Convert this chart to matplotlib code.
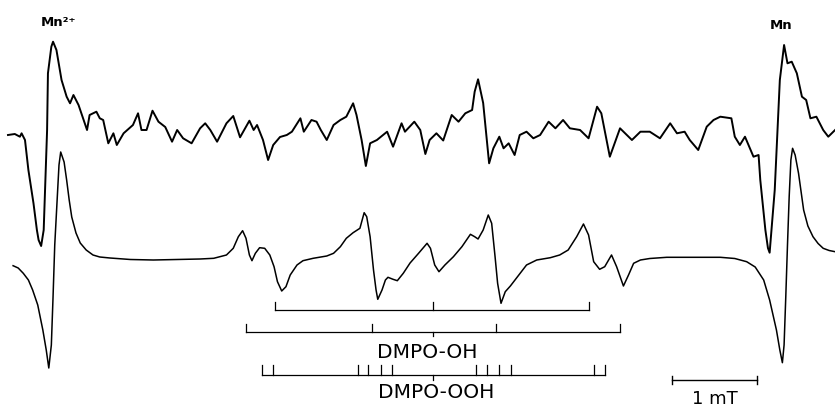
import matplotlib
matplotlib.use("Agg")
import matplotlib.pyplot as plt

# field offset from spectrum centre (mT), intensity in arbitrary units
exp_field = [-5.00, -4.92, -4.86, -4.84, -4.80, -4.76, -4.70, -4.66, -4.64, -4.61,
             -4.58, -4.54, -4.53, -4.49, -4.47, -4.43, -4.37, -4.31, -4.27, -4.23,
             -4.17, -4.11, -4.07, -4.04, -3.96, -3.92, -3.88, -3.82, -3.76, -3.72,
             -3.64, -3.53, -3.47, -3.43, -3.37, -3.30, -3.23, -3.15, -3.07, -3.01,
             -2.94, -2.84, -2.74, -2.68, -2.62, -2.54, -2.43, -2.35, -2.27, -2.16,
             -2.11, -2.07, -2.00, -1.94, -1.88, -1.80, -1.72, -1.66, -1.56, -1.52,
             -1.43, -1.37, -1.32, -1.25, -1.17, -1.09, -1.02, -0.94, -0.90, -0.84,
             -0.79, -0.74, -0.66, -0.54, -0.47, -0.37, -0.33, -0.22, -0.15, -0.09,
             -0.04, 0.04, 0.12, 0.22, 0.30, 0.38, 0.46, 0.49, 0.53, 0.59,
             0.66, 0.71, 0.78, 0.83, 0.89, 0.96, 1.02, 1.10, 1.18, 1.26,
             1.36, 1.44, 1.53, 1.61, 1.73, 1.83, 1.93, 1.98, 2.08, 2.20,
             2.34, 2.44, 2.55, 2.67, 2.79, 2.87, 2.96, 3.02, 3.12, 3.22,
             3.30, 3.38, 3.51, 3.55, 3.61, 3.67, 3.77, 3.83, 3.85, 3.91,
             3.94, 3.96, 4.02, 4.08, 4.13, 4.17, 4.22, 4.28, 4.34, 4.39,
             4.44, 4.51, 4.59, 4.65, 4.73]
exp_signal = [-0.50, -0.40, -0.67, -0.33, -1.00, -4.00, -7.33, -10.0, -11.0, -11.6,
              -10.0, 0.00, 5.67, 8.33, 8.83, 8.00, 5.00, 3.33, 2.67, 3.50,
              2.50, 1.00, 0.00, 1.50, 1.83, 1.17, 1.00, -1.33, -0.33, -1.50,
              -0.33, 0.50, 1.67, 0.00, 0.00, 1.93, 0.83, 0.30, -1.17, 0.00,
              -0.83, -1.33, 0.17, 0.67, 0.00, -1.17, 0.67, 1.40, -0.73, 0.93,
              0.00, 0.50, -1.00, -3.00, -1.50, -0.70, -0.50, -0.17, 1.17, -0.17,
              1.00, 0.83, 0.00, -1.00, 0.50, 1.00, 1.33, 2.67, 1.50, -1.00,
              -3.60, -1.33, -1.00, -0.17, -1.67, 0.67, -0.17, 0.83, 0.00, -2.40,
              -1.00, -0.33, -1.05, 1.50, 0.83, 1.67, 2.00, 3.83, 5.07, 2.70,
              -3.33, -1.83, -0.67, -1.83, -1.33, -2.50, -0.50, -0.17, -0.83, -0.50,
              0.83, 0.17, 1.00, 0.17, 0.00, -0.83, 2.33, 1.67, -2.67, 0.17,
              -1.00, -0.17, -0.17, -0.83, 0.67, -0.33, -0.17, -1.00, -2.00, 0.33,
              1.00, 1.33, 1.17, -0.67, -1.50, -0.67, -2.67, -2.50, -5.00, -10.0,
              -11.8, -12.27, -6.00, 5.00, 8.50, 6.67, 6.83, 5.67, 3.33, 3.00,
              1.17, 1.33, 0.00, -0.67, 0.00]

sim_field = [-4.94, -4.88, -4.82, -4.76, -4.71, -4.65, -4.59, -4.55, -4.52, -4.49,
             -4.47, -4.45, -4.42, -4.40, -4.38, -4.34, -4.31, -4.28, -4.25, -4.20,
             -4.15, -4.08, -4.00, -3.92, -3.80, -3.56, -3.29, -2.74, -2.58, -2.43,
             -2.35, -2.29, -2.24, -2.20, -2.16, -2.13, -2.09, -2.04, -1.98, -1.92,
             -1.87, -1.83, -1.78, -1.73, -1.68, -1.60, -1.53, -1.41, -1.25, -1.17,
             -1.09, -1.02, -0.94, -0.86, -0.81, -0.78, -0.74, -0.70, -0.67, -0.65,
             -0.60, -0.56, -0.53, -0.47, -0.42, -0.35, -0.27, -0.17, -0.07, -0.03,
             0.02, 0.07, 0.14, 0.24, 0.34, 0.44, 0.49, 0.53, 0.59, 0.65,
             0.69, 0.73, 0.76, 0.80, 0.85, 0.91, 0.98, 1.10, 1.22, 1.38,
             1.49, 1.59, 1.69, 1.77, 1.83, 1.89, 1.96, 2.02, 2.10, 2.16,
             2.24, 2.30, 2.36, 2.44, 2.55, 2.75, 3.38, 3.55, 3.69, 3.79,
             3.89, 3.96, 4.04, 4.08, 4.11, 4.13, 4.15, 4.17, 4.19, 4.21,
             4.23, 4.26, 4.30, 4.36, 4.41, 4.47, 4.53, 4.59, 4.66, 4.73]
sim_signal = [-0.67, -0.90, -1.43, -2.10, -3.10, -4.60, -7.10, -9.10, -10.9, -8.60,
              -3.80, 1.40, 6.20, 9.40, 10.7, 9.70, 7.90, 5.90, 4.20, 2.60,
              1.60, 0.90, 0.40, 0.20, 0.10, -0.05, -0.10, 0.00, 0.07, 0.40,
              1.07, 2.23, 2.83, 2.07, 0.40, -0.17, 0.57, 1.13, 1.07, 0.40,
              -0.77, -2.27, -3.20, -2.77, -1.60, -0.60, -0.17, 0.07, 0.30, 0.57,
              1.23, 2.07, 2.63, 3.07, 4.63, 4.23, 2.23, -1.10, -3.10, -4.03,
              -3.10, -2.10, -1.83, -2.03, -2.17, -1.43, -0.40, 0.57, 1.57, 1.07,
              -0.60, -1.27, -0.60, 0.23, 1.23, 2.47, 2.23, 2.00, 2.90, 4.40,
              3.57, 0.23, -2.43, -4.43, -3.27, -2.70, -1.93, -0.60, -0.10, 0.13,
              0.40, 0.90, 2.23, 3.50, 2.40, -0.27, -1.03, -0.77, 0.40, -0.77,
              -2.70, -1.60, -0.43, -0.10, 0.05, 0.17, 0.17, 0.05, -0.27, -0.80,
              -2.10, -4.10, -7.10, -9.10, -10.37, -8.60, -3.77, 1.40, 6.23, 9.90,
              11.07, 10.4, 8.57, 4.90, 3.30, 2.23, 1.55, 1.07, 0.85, 0.73]

# stick diagrams (line positions, mT)
third_lines = [-1.86, 0.0, 1.84]
dmpo_oh_lines = [-2.20, -0.72, 0.74, 2.20]
dmpo_ooh_lines = [-2.015, -1.886, -0.879, -0.761, -0.615, -0.479,
                  0.506, 0.632, 0.780, 0.914, 1.898, 2.024]
scale_bar = [2.81, 3.81]  # 1 mT

exp_offset = 12.9

fig = plt.figure(figsize=(8.35, 4.07), dpi=100)
ax = fig.add_axes([0, 0, 1, 1])
ax.set_xlim(-5.094, 4.729)
ax.set_ylim(-14.8, 25.9)
ax.axis("off")

# measured spectrum (top) and simulation (bottom)
ax.plot(exp_field, [s + exp_offset for s in exp_signal], color="black", lw=1.4,
        solid_joinstyle="round")
ax.plot(sim_field, sim_signal, color="black", lw=1.1, solid_joinstyle="round")


def stick_row(lines, y, up, down=None, lw=0.9):
    ax.plot([lines[0], lines[-1]], [y, y], color="black", lw=lw)
    for b in lines:
        ax.plot([b, b], [y, y + up], color="black", lw=lw)
    if down is not None:
        ax.plot([0, 0], [y, y - down], color="black", lw=lw)


stick_row(third_lines, -5.1, 0.8)
stick_row(dmpo_oh_lines, -7.27, 0.77, down=0.45)
stick_row(dmpo_ooh_lines, -11.6, 1.0, down=0.45)

ax.text(-0.07, -9.4, "DMPO-OH", ha="center", va="center", fontsize=14.5)
ax.text(0.04, -13.4, "DMPO-OOH", ha="center", va="center", fontsize=14.5)

# 1 mT scale bar
ax.plot(scale_bar, [-12.1, -12.1], color="black", lw=1.0)
for b in scale_bar:
    ax.plot([b, b], [-12.5, -11.7], color="black", lw=1.0)
ax.text(sum(scale_bar) / 2, -14.0, "1 mT", ha="center", va="center", fontsize=13)

ax.text(-4.62, 23.65, "Mn²⁺", ha="left", va="center", fontsize=9.5, fontweight="bold")
ax.text(3.96, 23.35, "Mn", ha="left", va="center", fontsize=9.5, fontweight="bold")

fig.savefig("out.png", dpi=100)
